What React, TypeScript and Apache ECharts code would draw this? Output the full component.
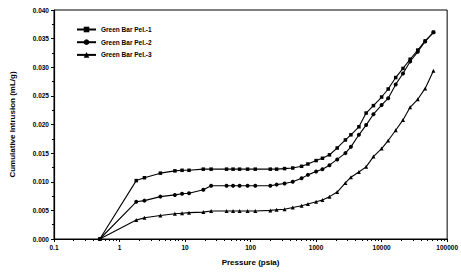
import React, { useEffect, useRef } from "react";
import * as echarts from "echarts";

const pressures = [0.5, 1.8, 2.4, 4.2, 7, 9, 11.5, 19, 25, 43, 54, 68, 90, 118, 200, 250, 330, 440, 600, 750, 1000, 1250, 1600, 2100, 2800, 3400, 4500, 5800, 7500, 10000, 12600, 16400, 21200, 27200, 35600, 46200, 61800];

const pel1 = [0, 0.0102, 0.0107, 0.0115, 0.0119, 0.012, 0.012, 0.0122, 0.0122, 0.0122, 0.0122, 0.0122, 0.0122, 0.0122, 0.0122, 0.0122, 0.0123, 0.0124, 0.0127, 0.0131, 0.0137, 0.0141, 0.0147, 0.0159, 0.0173, 0.0182, 0.0196, 0.022, 0.0233, 0.0248, 0.0262, 0.0282, 0.0298, 0.0314, 0.033, 0.0346, 0.0361];

const pel2 = [0, 0.0065, 0.0067, 0.0074, 0.0077, 0.0079, 0.008, 0.0086, 0.0093, 0.0093, 0.0093, 0.0093, 0.0093, 0.0093, 0.0093, 0.0095, 0.0097, 0.01, 0.0106, 0.0112, 0.0118, 0.0122, 0.0129, 0.0139, 0.015, 0.0161, 0.0182, 0.0199, 0.0218, 0.0234, 0.0246, 0.027, 0.0289, 0.031, 0.0327, 0.0345, 0.0361];

const pel3 = [0, 0.0033, 0.0037, 0.0041, 0.0044, 0.0045, 0.0046, 0.0047, 0.0049, 0.0049, 0.0049, 0.0049, 0.0049, 0.0049, 0.005, 0.0051, 0.0052, 0.0055, 0.0058, 0.0061, 0.0065, 0.0068, 0.0074, 0.0082, 0.0098, 0.0108, 0.0117, 0.0126, 0.0144, 0.0158, 0.0172, 0.019, 0.0208, 0.023, 0.0244, 0.0263, 0.0294];

const seriesNames = ["Green Bar Pel.-1", "Green Bar Pel.-2", "Green Bar Pel.-3"];
const seriesSymbols = ["rect", "circle", "triangle"];

const FONT = "Liberation Sans";

export default function App() {
  const ref = useRef<HTMLDivElement>(null);
  useEffect(() => {
    if (!ref.current) return;
    const chart = echarts.init(ref.current, null, { renderer: "svg" });
    const all = [pel1, pel2, pel3];
    chart.setOption({
      animation: false,
      backgroundColor: "#fff",
      textStyle: { fontFamily: FONT },
      grid: {
        left: 52,
        right: 9,
        top: 10,
        bottom: 36,
        show: true,
        borderColor: "#000",
        borderWidth: 1,
      },
      legend: {
        orient: "vertical",
        left: 71,
        top: 21,
        itemWidth: 19,
        itemHeight: 7,
        itemGap: 5.7,
        textStyle: { fontSize: 6.5, fontWeight: "bold", color: "#000", fontFamily: FONT },
        data: seriesNames,
      },
      xAxis: {
        type: "log",
        logBase: 10,
        min: 0.1,
        max: 100000,
        name: "Pressure (psia)",
        nameLocation: "middle",
        nameGap: 19,
        nameTextStyle: { fontSize: 8, fontWeight: "bold", color: "#000", fontFamily: FONT },
        axisLine: { lineStyle: { color: "#000", width: 1.2 } },
        axisTick: { show: true, length: 3, inside: false, lineStyle: { color: "#000" } },
        minorTick: { show: true, splitNumber: 9, length: 2, lineStyle: { color: "#000" } },
        splitLine: { show: false },
        axisLabel: {
          fontSize: 6.5,
          fontWeight: "bold",
          color: "#000",
          margin: 5,
          fontFamily: FONT,
          formatter: (v: number) => String(v),
        },
      },
      yAxis: {
        type: "value",
        min: 0,
        max: 0.04,
        interval: 0.005,
        name: "Cumulative Intrusion (mL/g)",
        nameLocation: "middle",
        nameGap: 38,
        nameTextStyle: { fontSize: 8, fontWeight: "bold", color: "#000", fontFamily: FONT },
        axisLine: { show: true, lineStyle: { color: "#000", width: 1.2 } },
        axisTick: { show: true, length: 3, lineStyle: { color: "#000" } },
        minorTick: { show: true, splitNumber: 2, length: 2, lineStyle: { color: "#000" } },
        splitLine: { show: false },
        axisLabel: {
          fontSize: 6.5,
          fontWeight: "bold",
          color: "#000",
          margin: 5,
          fontFamily: FONT,
          formatter: (v: number) => v.toFixed(3),
        },
      },
      series: seriesNames.map((name, i) => ({
        name,
        type: "line",
        symbol: seriesSymbols[i],
        symbolSize: i === 0 ? 3.5 : 4,
        showSymbol: true,
        itemStyle: { color: "#000" },
        lineStyle: { color: "#000", width: 1.1 },
        data: pressures.map((p, k) => [p, all[i][k]]),
      })),
    });
    return () => chart.dispose();
  }, []);
  return (
    <div
      ref={ref}
      style={{ position: "fixed", left: 0, top: 0, width: 461, height: 275 }}
    />
  );
}
